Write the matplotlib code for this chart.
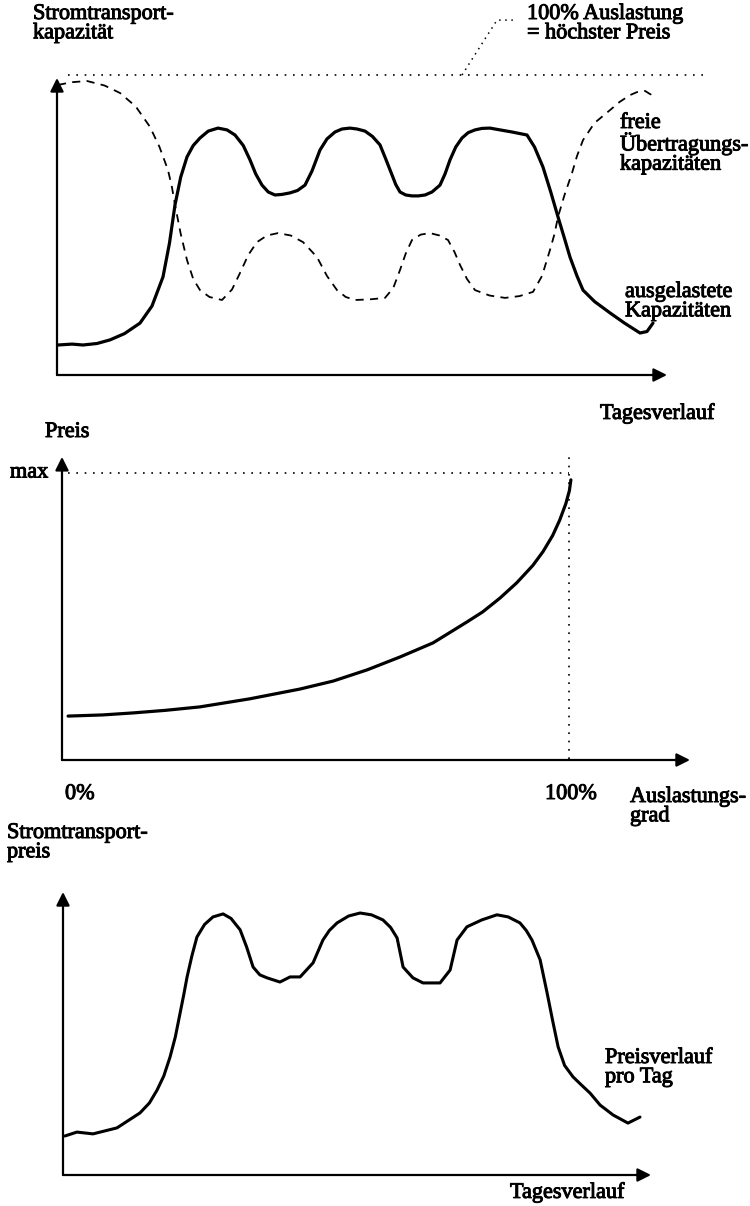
import matplotlib
matplotlib.use("Agg")
import matplotlib.pyplot as plt
import matplotlib.patheffects as pe

plt.rcParams['font.family'] = ['Liberation Serif', 'DejaVu Serif']

# Panel 1: Stromtransportkapazität over the day (hours, % of capacity)
hours_load = [0.04, 0.6, 1.04, 1.6, 2.12, 2.7, 3.32, 3.8, 4.24, 4.5, 4.72, 4.95, 5.2, 5.45,
              5.72, 6.05, 6.44, 6.8, 7.12, 7.45, 7.72, 7.95, 8.2, 8.45, 8.72, 9.0, 9.32,
              9.62, 9.92, 10.2, 10.52, 10.8, 11.12, 11.4, 11.72, 12.0, 12.32, 12.62, 12.92,
              13.15, 13.4, 13.55, 13.72, 13.95, 14.2, 14.45, 14.72, 15.0, 15.32, 15.52,
              15.72, 15.95, 16.2, 16.45, 16.72, 17.0, 17.32, 17.72, 18.2, 18.8, 19.1,
              19.44, 19.75, 20.04, 20.3, 20.52, 20.8, 21.04, 21.5, 22.12, 22.7, 23.32,
              23.6, 23.84]
load_used = [10, 10.3, 10, 10.5, 11.7, 13.8, 17.3, 23, 32.7, 44, 56.7, 66, 72.7, 76.5,
             79, 81.3, 82.3, 81.7, 80, 76.5, 71.7, 67, 63.3, 61, 60, 60.2, 60.7,
             61.5, 63.3, 68, 75, 78.7, 81, 82, 82.3, 82, 81.3, 79.5, 76.7,
             72, 66.7, 63.5, 61, 60, 59.7, 59.7, 60, 61, 63.3, 67,
             71.7, 76, 79, 80.8, 81.7, 82.2, 82.3, 81.7, 81, 80, 76,
             69.3, 61, 52.7, 45.5, 39.3, 33, 28.3, 24.5, 20.7, 17.3, 14,
             14.5, 17.3]

hours_free = [0.04, 0.6, 1.2, 1.9, 2.52, 3.15, 3.72, 4.1, 4.44, 4.6, 4.72, 4.95, 5.2, 5.45,
              5.72, 6.1, 6.6, 7.0, 7.32, 7.65, 8.0, 8.4, 8.84, 9.35, 9.84, 10.1, 10.4,
              10.8, 11.2, 11.55, 11.92, 12.5, 13.12, 13.45, 13.72, 13.95, 14.2, 14.55,
              14.92, 15.3, 15.64, 15.9, 16.12, 16.4, 16.72, 17.3, 17.92, 18.5, 19.04,
              19.4, 19.72, 19.9, 20.04, 20.3, 20.6, 20.8, 21.04, 21.5, 22.12, 22.5,
              22.92, 23.2, 23.52, 23.75, 23.92]
load_free = [96.7, 97.6, 98, 96.5, 94, 89.5, 82.7, 76, 68.3, 62.5, 56.7, 47, 38.3, 32,
             28.3, 26, 25, 28.5, 34, 40, 44.3, 46.5, 47.3, 46.5, 44.3, 42, 39.3,
             33, 28.3, 26, 25, 25.2, 25.7, 29, 35, 40.5, 45, 46.8,
             47.3, 46.5, 45, 41, 36.7, 32, 28.3, 26.5, 25.7, 26.3, 27.7,
             33, 41.7, 47, 52.7, 60, 67.3, 73, 78.3, 84, 88.3, 91,
             93.3, 94.3, 94.7, 93.5, 91.7]

# Panel 2: price vs. Auslastungsgrad (%), price relative to max = 100
auslastung = [1.2, 8, 14, 20.4, 27.2, 37, 46.9, 53.5, 60.2, 66.7, 73.2, 79.9, 83, 86.4,
              89.7, 92.9, 94.9, 96.8, 98.2, 99.4, 100.1, 100.4]
preis = [15.3, 15.7, 16.4, 17.3, 18.5, 21.3, 24.7, 27.5, 31.4, 35.9, 40.8, 48.1, 51.6, 56.4,
         61.7, 67.8, 72.6, 78.2, 83.6, 89.3, 93.8, 97.6]

# Panel 3: Stromtransportpreis over the day
hours_price = [0.08, 0.58, 1.25, 2.25, 3.21, 3.6, 3.92, 4.2, 4.46, 4.68, 4.88, 5.03, 5.17,
               5.37, 5.58, 5.9, 6.25, 6.67, 7.0, 7.38, 7.65, 7.92, 8.2, 8.5, 9.04, 9.46,
               9.88, 10.42, 10.83, 11.1, 11.42, 11.9, 12.38, 12.85, 13.33, 13.65, 13.92,
               14.05, 14.17, 14.58, 15.0, 15.71, 16.13, 16.42, 16.83, 17.45, 18.08,
               18.55, 19.04, 19.3, 19.54, 19.88, 20.17, 20.4, 20.63, 20.9, 21.25, 21.6,
               21.96, 22.38, 22.92, 23.54, 24.04]
price_day = [13, 14.3, 13.7, 15.7, 20.7, 24, 28.3, 33, 39.3, 46, 54, 60, 66,
             73, 79.3, 83.5, 86, 87, 85.5, 81.7, 76, 69.3, 66.7, 65.7, 64.3, 66,
             66, 70.7, 78.3, 81.5, 84, 86.3, 87.3, 86.7, 85, 82.5, 79,
             74, 69.3, 65.7, 64, 64, 68.3, 78.3, 82.7, 85, 86.7,
             86, 84, 81.5, 78.3, 71.7, 60.7, 51.5, 42.7, 36.5, 32.7, 30,
             27.3, 23.3, 20, 17.3, 19.3]

W, H = 750, 1206
FS = 16
INK = [pe.withStroke(linewidth=0.7, foreground='black')]


def px_rect(left, bottom, right, top):
    return [left / W, 1 - bottom / H, (right - left) / W, (bottom - top) / H]


def px(x, y):
    return x / W, 1 - y / H


def label(x, y, s, **kw):
    opts = dict(fontsize=FS, va='top', ha='left', linespacing=1.02, path_effects=INK)
    opts.update(kw)
    fig.text(*px(x, y), s, **opts)


def draw_axes(ax, xmax, ymax):
    arrow = dict(arrowstyle='-|>', lw=1.6, color='black', mutation_scale=20,
                 shrinkA=0, shrinkB=0)
    ax.annotate('', xy=(0, ymax), xytext=(0, 0), arrowprops=arrow, annotation_clip=False)
    ax.annotate('', xy=(xmax, 0), xytext=(0, 0), arrowprops=arrow, annotation_clip=False)
    ax.axis('off')


fig = plt.figure(figsize=(W / 100, H / 100), dpi=100)

# ---- panel 1
ax1 = fig.add_axes(px_rect(57, 375, 667, 60))
ax1.set_xlim(0, 24.4)
ax1.set_ylim(0, 105)
draw_axes(ax1, 24.4, 99)
ax1.plot(hours_load, load_used, color='black', lw=2.3, solid_joinstyle='round',
         solid_capstyle='round')
ax1.plot(hours_free, load_free, color='black', lw=1.3, linestyle=(0, (4.5, 3.5)))
ax1.plot([0.44, 25.9], [100, 100], color='black', lw=1.2, linestyle=(0, (1, 4)),
         clip_on=False)
ax1.plot([16.2, 17.6, 18.4], [100, 118.3, 118.3], color='black', lw=1.1,
         linestyle=(0, (1, 3)), clip_on=False)

label(33, 5, 'Stromtransport-\nkapazität')
label(527, 5, '100% Auslastung\n= höchster Preis')
label(620, 114, 'freie\nÜbertragungs-\nkapazitäten')
label(625, 283, 'ausgelastete\nKapazitäten')
label(600, 404, 'Tagesverlauf')

# ---- panel 2
ax2 = fig.add_axes(px_rect(62, 760, 690, 450))
ax2.set_xlim(0, 123.9)
ax2.set_ylim(0, 108)
draw_axes(ax2, 123.9, 105.6)
ax2.plot(auslastung, preis, color='black', lw=2.3, solid_joinstyle='round',
         solid_capstyle='round')
ax2.plot([1.2, 100], [100, 100], color='black', lw=1.2, linestyle=(0, (1, 4)))
ax2.plot([100, 100], [0.5, 105.5], color='black', lw=1.2, linestyle=(0, (1, 4)))

label(45, 423, 'Preis')
label(10, 473, 'max', va='center')
label(65, 785, '0%')
label(545, 785, '100%')
label(630, 788, 'Auslastungs-\ngrad')

# ---- panel 3
ax3 = fig.add_axes(px_rect(63, 1175, 651, 880))
ax3.set_xlim(0, 24.5)
ax3.set_ylim(0, 98.3)
draw_axes(ax3, 24.5, 94.3)
ax3.plot(hours_price, price_day, color='black', lw=2.2, solid_joinstyle='round',
         solid_capstyle='round')

label(7, 824, 'Stromtransport-\npreis')
label(605, 1049, 'Preisverlauf\npro Tag')
label(510, 1183, 'Tagesverlauf')

fig.savefig('out.png', dpi=100, facecolor='white')
